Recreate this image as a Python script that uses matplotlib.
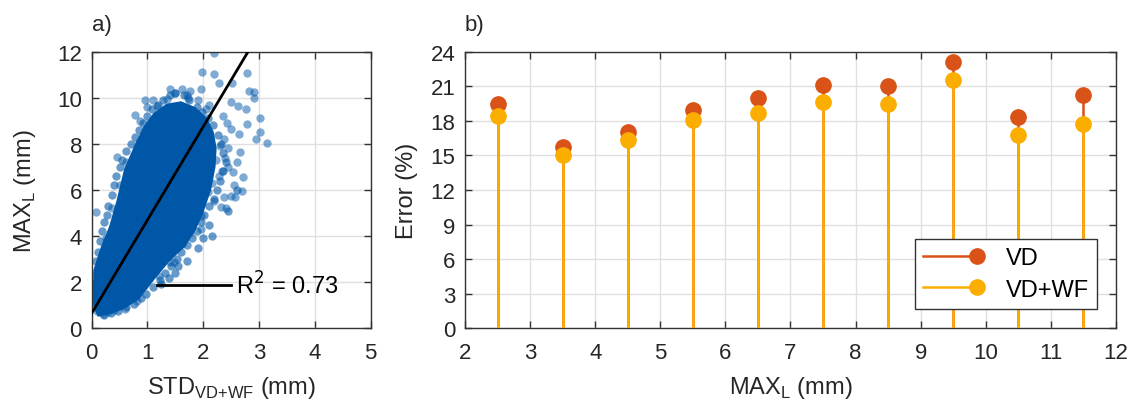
import matplotlib
matplotlib.use("Agg")
import matplotlib.pyplot as plt
from matplotlib.patches import Polygon
from matplotlib.lines import Line2D
from matplotlib.legend_handler import HandlerBase

plt.rcParams['font.family'] = ['Liberation Sans', 'DejaVu Sans']

# ---------------- data ----------------
# panel a) dense core of the scatter cloud (outline, STD vs MAX_L)
core_x = [0.12, 0.35, 0.55, 0.83, 1.13, 1.37, 1.67, 1.85, 1.98, 2.12, 2.20, 2.22, 2.17,
          2.05, 1.85, 1.60, 1.35, 1.12, 0.95, 0.78, 0.60, 0.46, 0.33, 0.18, 0.06, 0.03, 0.05]
core_y = [0.55, 0.68, 0.85, 1.27, 2.20, 2.90, 3.60, 4.30, 5.00, 6.00, 7.00, 7.80, 8.50,
          9.10, 9.55, 9.80, 9.70, 9.30, 8.75, 7.90, 6.90, 5.50, 4.40, 3.50, 2.60, 1.60, 0.90]
# panel a) individual scattered points around the core (outliers)
pts_x = [2.19, 1.98, 2.19, 1.96, 2.28, 2.51, 2.78, 2.81, 2.90, 2.90, 2.49, 2.62, 2.76, 3.02,
         2.79, 2.64, 2.94, 3.02, 3.14, 2.49, 2.37, 2.66, 2.60, 2.54, 2.72, 2.69, 2.57, 2.37,
         2.49, 2.31, 2.19, 1.95, 1.95, 1.77, 1.62, 1.47, 1.41, 1.20, 0.81, 0.60, 0.08, 0.45,
         0.78, 0.87, 1.35, 1.62, 1.77, 0.99, 1.17, 1.50, 1.70, 1.90, 2.05, 2.35, 2.42, 2.30,
         2.38, 2.45, 2.28, 2.15, 2.08, 1.90, 1.78, 1.58, 1.30, 1.05, 0.92, 0.70, 0.55, 0.40,
         0.30, 0.20, 0.10, 0.06, 0.25, 0.45, 0.68, 1.00, 1.25, 1.52, 1.80, 2.00, 2.22, 2.33,
         1.45, 1.20, 0.85, 0.62, 0.50, 0.36, 0.96, 1.10, 1.40, 1.73, 2.10, 2.45, 2.55, 2.40]
pts_y = [11.92, 11.13, 11.03, 10.40, 10.66, 10.66, 11.07, 10.30, 10.23, 10.00, 9.80, 9.65,
         9.50, 9.10, 8.86, 8.42, 8.21, 8.50, 8.03, 8.64, 8.21, 7.63, 7.20, 6.76, 6.55, 5.94,
         5.68, 5.68, 5.75, 5.25, 5.53, 4.88, 4.31, 4.16, 3.66, 2.86, 2.86, 2.28, 1.20, 0.84,
         5.06, 7.41, 9.25, 9.00, 9.94, 10.38, 10.30, 9.58, 9.65, 10.20, 10.10, 9.90, 9.50,
         9.20, 8.90, 7.90, 7.40, 7.00, 6.60, 6.30, 5.90, 5.30, 4.70, 4.00, 3.30, 2.60, 2.00,
         1.50, 1.10, 0.80, 0.70, 0.62, 0.75, 1.40, 3.90, 5.00, 6.40, 7.60, 8.40, 8.80, 8.60,
         8.00, 7.30, 6.80, 4.90, 4.20, 8.10, 7.20, 6.20, 5.20, 9.90, 9.90, 10.40, 10.00,
         9.70, 7.80, 6.20, 5.20]
# panel a) points along the edge of the dense core
edge_x = [0.02, 0.04, 0.05, 0.08, 0.12, 0.14, 0.18, 0.22, 0.27, 0.30, 0.36, 0.40, 0.44,
          0.50, 0.55, 0.62, 0.70, 0.78, 0.85, 0.92, 1.00, 1.08, 1.18, 1.28, 1.40, 1.50,
          1.65, 1.75, 1.88, 1.98, 2.08, 2.18, 2.26, 2.32, 2.36, 2.40, 2.36, 2.30, 2.25,
          2.20, 2.10, 2.02, 1.95, 1.88, 1.80, 1.70, 1.60, 1.52, 1.42, 1.32, 1.22, 1.10,
          0.98, 0.88, 0.75, 0.62, 0.48, 0.35, 0.22, 1.50, 1.38, 1.70, 1.90, 2.00, 2.10,
          2.45, 2.60, 1.25, 1.55, 2.15]
edge_y = [1.20, 1.90, 2.40, 2.90, 3.30, 3.80, 4.20, 4.60, 4.90, 5.30, 5.80, 6.20, 6.60,
          7.00, 7.30, 7.70, 8.00, 8.30, 8.60, 8.90, 9.20, 9.50, 9.70, 9.90, 10.10, 10.20,
          10.10, 9.90, 9.60, 9.40, 9.10, 8.80, 8.40, 8.00, 7.60, 7.20, 6.80, 6.40, 6.00,
          5.60, 5.30, 4.90, 4.60, 4.20, 3.90, 3.60, 3.30, 3.00, 2.70, 2.40, 2.10, 1.80,
          1.50, 1.30, 1.05, 0.90, 0.75, 0.65, 0.58, 2.40, 2.20, 2.90, 3.50, 3.90, 4.50,
          5.10, 6.00, 1.90, 2.70, 4.00]
# regression line and R^2
fit_intercept = 0.65
fit_slope = 4.05
fit_x = [0.0, 2.80]
r2_text = 'R$^2$ = 0.73'

# panel b) stems
max_l = [2.5, 3.5, 4.5, 5.5, 6.5, 7.5, 8.5, 9.5, 10.5, 11.5]
err_vd = [19.5, 15.7, 17.0, 18.9, 20.0, 21.1, 21.0, 23.1, 18.3, 20.2]
err_vdwf = [18.4, 15.0, 16.3, 18.1, 18.7, 19.6, 19.5, 21.5, 16.8, 17.7]
series_names = ['VD', 'VD+WF']

# ---------------- styling ----------------
FS = 16
FL = 17
c_blue = '#0057A8'
c_vd = '#D95319'
c_wf = '#FBAE00'
ax_col = '#333333'
txt_col = '#262626'
grid_col = '#E0E0E0'

fig = plt.figure(figsize=(11.32, 4.10), dpi=100)

def style(ax):
    for s in ax.spines.values():
        s.set_color(ax_col)
        s.set_linewidth(1.0)
    ax.tick_params(direction='in', length=5, width=1.0, colors=ax_col,
                   labelcolor=txt_col, labelsize=FS, top=True, right=True)
    ax.tick_params(axis='x', pad=10)
    ax.tick_params(axis='y', pad=7)
    ax.grid(True, color=grid_col, linewidth=1.0)
    ax.set_axisbelow(True)

# ---- panel a ----
ax1 = fig.add_axes([0.081, 0.197, 0.2465, 0.6746])
style(ax1)
ax1.add_patch(Polygon(list(zip(core_x, core_y)), closed=True, facecolor=c_blue,
                      edgecolor=c_blue, linewidth=1.5, zorder=2))
ax1.scatter(edge_x, edge_y, s=36, color=c_blue, alpha=0.6, linewidths=0, zorder=2)
ax1.scatter(pts_x, pts_y, s=36, color=c_blue, alpha=0.5, linewidths=0, zorder=2)
fit_y = [fit_intercept + fit_slope * x for x in fit_x]
ax1.plot(fit_x, fit_y, color='black', linewidth=2.0, zorder=3)
ax1.plot([1.17, 2.49], [1.88, 1.88], color='black', linewidth=2.0, zorder=3)
ax1.text(2.58, 1.88, r2_text, fontsize=FL, va='center', ha='left', color='black', zorder=4)
ax1.set_xlim(0, 5)
ax1.set_ylim(0, 12)
ax1.set_xticks([0, 1, 2, 3, 4, 5])
ax1.set_yticks([0, 2, 4, 6, 8, 10, 12])
ax1.set_xlabel('STD$_{\\mathregular{VD{+}WF}}$ (mm)', fontsize=FL, color=txt_col, labelpad=8)
ax1.set_ylabel('MAX$_{\\mathregular{L}}$ (mm)', fontsize=FL, color=txt_col, labelpad=14)
ax1.text(0.0, 1.06, 'a)', transform=ax1.transAxes, fontsize=FS, ha='left', va='bottom',
         color=txt_col)

# ---- panel b ----
ax2 = fig.add_axes([0.4108, 0.197, 0.575, 0.6746])
style(ax2)
for vals, col in [(err_vd, c_vd), (err_vdwf, c_wf)]:
    ax2.vlines(max_l, 0, vals, colors=col, linewidth=1.8, zorder=3)
    ax2.plot(max_l, vals, 'o', color=col, markersize=11, zorder=4)
ax2.set_xlim(2, 12)
ax2.set_ylim(0, 24)
ax2.set_xticks(range(2, 13))
ax2.set_yticks(range(0, 25, 3))
ax2.set_xlabel('MAX$_{\\mathregular{L}}$ (mm)', fontsize=FL, color=txt_col, labelpad=8)
ax2.set_ylabel('Error (%)', fontsize=FL, color=txt_col, labelpad=9)
ax2.text(0.0, 1.06, 'b)', transform=ax2.transAxes, fontsize=FS, ha='left', va='bottom',
         color=txt_col)


class StemHandler(HandlerBase):
    def create_artists(self, legend, orig, xdescent, ydescent, width, height,
                       fontsize, trans):
        y = height / 2 - ydescent
        x0, x1 = -xdescent, width - xdescent
        line = Line2D([x0, x1], [y, y], color=orig.get_color(), linewidth=1.8)
        mark = Line2D([x1], [y], linestyle='none', marker='o', markersize=11,
                      color=orig.get_color())
        line.set_transform(trans)
        mark.set_transform(trans)
        return [line, mark]


handles = [Line2D([], [], color=c_vd), Line2D([], [], color=c_wf)]
leg = ax2.legend(handles, series_names, loc='lower right', bbox_to_anchor=(0.971, 0.07),
                 borderaxespad=0, fontsize=FL, frameon=True, fancybox=False, framealpha=1,
                 edgecolor=ax_col, handlelength=2.3, borderpad=0.35, labelspacing=0.4,
                 handletextpad=1.2,
                 handler_map={Line2D: StemHandler()})
leg.get_frame().set_linewidth(1.0)

fig.savefig('out.png', dpi=100)
